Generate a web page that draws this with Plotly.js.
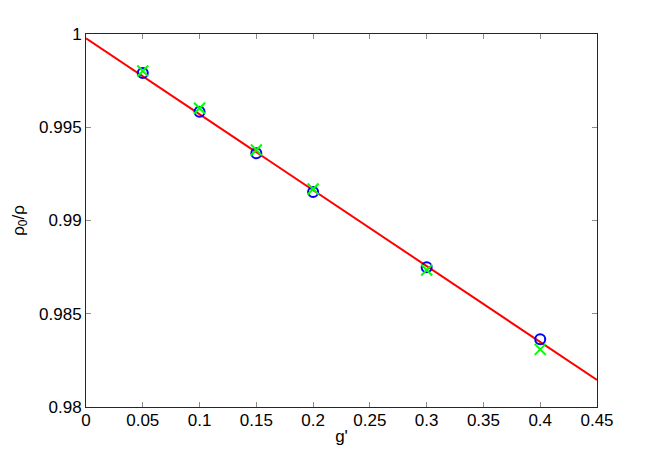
<!DOCTYPE html>
<html>
<head>
<meta charset="utf-8">
<script src="https://cdn.plot.ly/plotly-3.0.1.min.js"></script>
<style>
  html, body { margin: 0; padding: 0; background: #fff; }
  #chart { width: 659px; height: 457px; }
</style>
</head>
<body>
<div id="chart"></div>
<script>
// === Data ===
const gValues = [0.05, 0.1, 0.15, 0.2, 0.3, 0.4];
const circleRatio = [0.99791, 0.99583, 0.99360, 0.99153, 0.98749, 0.98363];
const crossRatio = [0.99802, 0.99602, 0.99378, 0.99169, 0.98735, 0.98309];
const fitX = [0, 0.45];
const fitY = [0.99977, 0.98145];

const xTicks = [0, 0.05, 0.1, 0.15, 0.2, 0.25, 0.3, 0.35, 0.4, 0.45];
const xTickText = ['0', '0.05', '0.1', '0.15', '0.2', '0.25', '0.3', '0.35', '0.4', '0.45'];
const yTicks = [0.98, 0.985, 0.99, 0.995, 1];
const yTickText = ['0.98', '0.985', '0.99', '0.995', '1'];

const fitLine = {
  x: fitX,
  y: fitY,
  mode: 'lines',
  type: 'scatter',
  line: { color: '#ff0000', width: 2 },
  hoverinfo: 'skip'
};

const circles = {
  x: gValues,
  y: circleRatio,
  mode: 'markers',
  type: 'scatter',
  marker: { symbol: 'circle-open', size: 10, color: '#0000ff', line: { width: 2, color: '#0000ff' } }
};

const crosses = {
  x: gValues,
  y: crossRatio,
  mode: 'markers',
  type: 'scatter',
  marker: { symbol: 'x-thin-open', size: 11, color: '#00ff00', line: { width: 2, color: '#00ff00' } }
};

const axisCommon = {
  showgrid: false,
  zeroline: false,
  showline: true,
  linecolor: '#262626',
  linewidth: 1,
  mirror: 'ticks',
  ticks: 'inside',
  ticklen: 5,
  tickcolor: '#8c8c8c',
  tickfont: { family: 'Liberation Sans, Arial, sans-serif', size: 17, color: '#000' }
};

const layout = {
  width: 659,
  height: 457,
  margin: { l: 86, r: 62, t: 34, b: 50 },
  paper_bgcolor: '#fff',
  plot_bgcolor: '#fff',
  showlegend: false,
  font: { family: 'Liberation Sans, Arial, sans-serif', size: 17, color: '#000' },
  xaxis: Object.assign({}, axisCommon, {
    range: [0, 0.45],
    tickvals: xTicks,
    ticktext: xTickText,
    ticklabelstandoff: -2,
    title: { text: "g'", font: { size: 17 }, standoff: 0 }
  }),
  yaxis: Object.assign({}, axisCommon, {
    range: [0.98, 1],
    tickvals: yTicks,
    ticktext: yTickText,
    title: { text: 'ρ<sub>0</sub>/ρ', font: { size: 17 }, standoff: 10 }
  })
};

Plotly.newPlot('chart', [fitLine, circles, crosses], layout, { staticPlot: true });
</script>
</body>
</html>
